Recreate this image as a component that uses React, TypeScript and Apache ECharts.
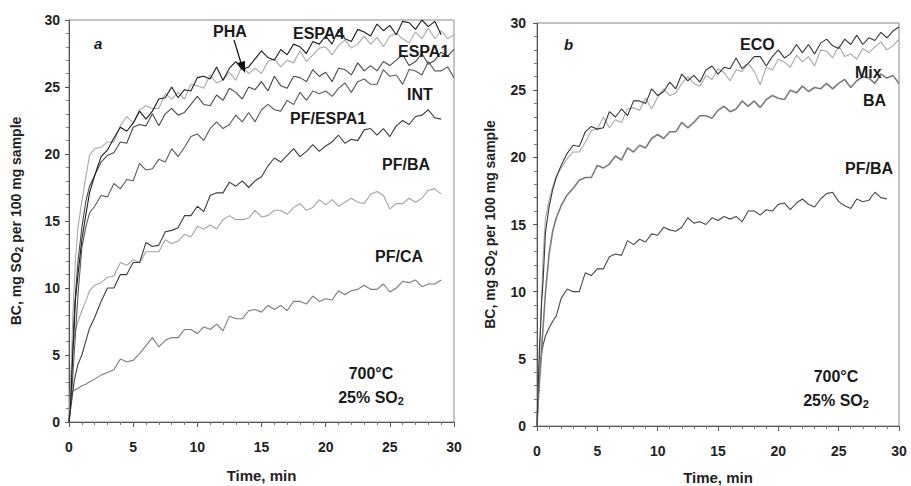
import React, { useEffect, useRef } from "react";
import * as echarts from "echarts";

// time axis (min), shared by all series
const T = [0, 0.1, 0.2, 0.3, 0.4, 0.5, 0.7, 1, 1.3, 1.6, 2, 2.5, 3,
  3.5, 4, 4.5, 5, 5.5, 6, 6.5, 7, 7.5, 8,
  8.5, 9, 9.5, 10, 10.5, 11, 11.5, 12, 12.5, 13,
  13.5, 14, 14.5, 15, 15.5, 16, 16.5, 17, 17.5, 18,
  18.5, 19, 19.5, 20, 20.5, 21, 21.5, 22, 22.5, 23,
  23.5, 24, 24.5, 25, 25.5, 26, 26.5, 27, 27.5, 28,
  28.5, 29, 29.5, 30];

// panel a
const PHA = [0, 1.0, 3.0, 5.2, 6.9, 9.1, 11.0, 13.6, 15.4, 17.1, 18.4, 19.8, 20.3,
  21.2, 22.0, 21.7, 22.3, 23.2, 22.6, 23.2, 24.1, 24.2, 25.0,
  24.2, 24.8, 24.7, 25.7, 25.8, 25.6, 26.5, 25.5, 26.4, 26.9,
  26.3, 26.5, 27.1, 27.7, 27.2, 27.0, 27.8, 27.4, 28.2, 28.0,
  27.5, 28.4, 28.2, 28.8, 28.2, 29.3, 28.6, 28.4, 29.3, 29.1,
  28.8, 29.7, 29.2, 29.6, 28.9, 29.9, 29.8, 29.3, 30.0, 29.5,
  29.9, 28.9];
const ESPA4 = [0, 2.0, 5.0, 8.0, 10.0, 12.0, 14.5, 16.5, 18.2, 19.9, 20.4, 20.5, 20.9,
  20.9, 22.1, 22.8, 22.3, 23.3, 23.6, 23.4, 23.4, 24.5, 24.1,
  24.6, 24.1, 25.2, 25.1, 24.9, 25.9, 25.3, 25.5, 26.1, 25.5,
  26.6, 26.0, 26.4, 26.0, 26.9, 27.1, 26.5, 27.0, 26.8, 27.7,
  26.9, 27.4, 27.9, 28.0, 27.4, 28.1, 28.5, 27.9, 28.2, 28.8,
  28.2, 28.7, 28.0, 28.8, 29.0, 28.6, 28.3, 29.1, 28.6, 29.4,
  28.6, 29.2, 28.6, 28.9];
const ESPA1 = [0, 1.5, 4.0, 6.0, 8.0, 9.5, 12.0, 14.5, 16.4, 17.6, 18.4, 19.4, 19.9,
  20.1, 20.9, 20.8, 22.0, 22.2, 22.1, 23.0, 22.1, 23.0, 23.4,
  22.9, 23.1, 23.7, 24.3, 23.7, 23.6, 24.4, 24.0, 24.9, 24.6,
  24.1, 25.0, 24.8, 25.4, 24.7, 25.8, 25.1, 24.9, 25.8, 25.7,
  25.4, 26.3, 25.8, 26.1, 25.4, 26.4, 26.3, 25.9, 26.8, 26.2,
  26.6, 26.2, 26.9, 26.6, 27.0, 27.4, 26.6, 26.9, 27.5, 26.7,
  27.0, 27.6, 27.3, 27.8];
const INT = [0, 1.0, 2.0, 3.5, 5.0, 6.5, 9.5, 13.0, 14.5, 15.6, 16.1, 16.9, 16.8,
  17.8, 17.4, 18.1, 18.0, 19.3, 18.8, 18.9, 19.6, 19.4, 20.4,
  19.8, 20.5, 21.3, 21.5, 21.0, 21.9, 22.4, 21.9, 22.2, 22.9,
  22.4, 23.1, 22.4, 23.3, 23.7, 23.3, 23.2, 24.0, 23.7, 24.6,
  24.0, 24.7, 24.5, 24.7, 24.3, 24.9, 25.3, 24.6, 25.4, 25.6,
  25.2, 25.2, 26.3, 25.8, 25.9, 25.2, 26.3, 26.2, 25.9, 26.9,
  26.2, 26.2, 26.5, 25.7];
const PF_ESPA1 = [0, 0.8, 1.5, 2.3, 3.0, 3.5, 4.3, 5.0, 6.0, 7.0, 7.8, 9.0, 10.0,
  10.0, 11.0, 11.0, 11.9, 11.9, 13.4, 13.1, 13.2, 14.2, 14.3,
  14.5, 15.4, 15.4, 16.1, 15.7, 16.9, 17.1, 17.1, 17.9, 17.6,
  18.0, 17.5, 18.0, 18.3, 19.1, 19.7, 19.4, 19.9, 20.4, 19.8,
  20.2, 20.7, 20.2, 20.6, 20.9, 21.4, 20.8, 21.1, 21.0, 21.8,
  21.9, 21.4, 21.9, 21.3, 22.1, 22.5, 22.2, 22.8, 22.9, 23.3,
  22.7, 22.6];
const PF_BA_A = [0, 1.5, 4.0, 5.5, 6.3, 6.8, 7.5, 8.3, 9.0, 9.8, 10.2, 10.4, 10.8,
  10.9, 11.9, 11.7, 12.1, 11.9, 12.7, 12.7, 12.7, 13.6, 13.3,
  13.5, 14.0, 13.8, 14.6, 14.4, 14.7, 14.4, 15.1, 15.4, 15.1,
  15.1, 15.2, 15.8, 15.3, 15.4, 15.8, 15.8, 15.5, 16.0, 16.3,
  15.8, 16.0, 16.6, 16.2, 16.6, 16.1, 16.4, 16.7, 16.4, 16.3,
  17.0, 17.2, 16.9, 15.9, 16.3, 16.3, 16.7, 16.4, 16.7, 17.3,
  17.4, 17.0];
const PF_CA = [0, 1.2, 2.0, 2.3, 2.4, 2.4, 2.5, 2.7, 2.8, 3.0, 3.2, 3.5, 3.7,
  3.9, 4.7, 4.5, 4.6, 5.1, 5.7, 6.3, 5.6, 6.1, 6.3,
  6.3, 6.9, 6.9, 6.6, 7.1, 6.9, 7.3, 6.8, 7.9, 7.7,
  7.7, 8.3, 8.4, 8.2, 8.7, 8.4, 8.7, 8.3, 9.0, 9.0,
  8.8, 9.4, 9.0, 9.2, 9.1, 9.8, 9.5, 9.8, 9.9, 10.2,
  9.9, 9.9, 10.3, 9.7, 10.0, 10.5, 10.4, 10.6, 10.1, 10.3,
  10.3, 10.6];

// panel b
const ECO = [0, 3.0, 5.7, 7.5, 9.5, 10.7, 14.4, 16.3, 17.6, 18.5, 19.4, 20.3, 20.9,
  20.8, 21.9, 22.3, 22.1, 22.2, 23.4, 23.0, 23.6, 23.1, 24.2,
  24.2, 24.0, 25.1, 24.6, 24.9, 25.6, 25.1, 26.2, 25.7, 26.1,
  25.6, 26.5, 26.8, 26.2, 26.7, 26.6, 27.4, 26.6, 27.0, 27.5,
  27.5, 26.8, 27.5, 28.0, 27.4, 27.7, 28.4, 27.8, 28.4, 27.7,
  28.5, 28.8, 28.3, 28.1, 28.8, 28.4, 29.1, 28.4, 28.9, 28.7,
  29.3, 28.9, 29.4, 29.7];
const MIX = [0, 2.5, 5.0, 7.5, 10.0, 12.5, 15.5, 16.8, 17.8, 18.6, 19.2, 19.9, 20.4,
  20.4, 21.1, 22.0, 22.1, 23.0, 22.2, 22.8, 22.6, 23.6, 23.7,
  23.5, 24.4, 23.6, 24.5, 25.1, 24.6, 24.8, 25.5, 26.0, 25.5,
  25.3, 26.1, 25.8, 26.6, 26.3, 25.7, 26.5, 26.4, 27.0, 26.4,
  25.4, 26.7, 26.5, 27.3, 27.1, 26.7, 27.6, 27.1, 27.5, 26.8,
  28.0, 27.9, 27.4, 28.3, 27.5, 27.7, 27.3, 28.1, 27.8, 28.2,
  28.6, 28.0, 28.3, 28.8];
const BA = [0, 1.8, 3.2, 4.5, 6.0, 7.3, 9.9, 12.8, 14.5, 15.5, 16.4, 17.2, 17.7,
  18.3, 18.5, 18.5, 19.4, 19.2, 19.5, 20.1, 19.8, 20.7, 20.4,
  20.9, 20.7, 21.4, 21.7, 21.4, 21.9, 21.9, 22.6, 22.2, 22.6,
  23.1, 23.1, 22.9, 23.5, 23.8, 23.4, 23.6, 24.2, 23.8, 24.2,
  23.7, 24.3, 24.6, 24.4, 24.3, 25.0, 24.8, 25.3, 24.9, 25.2,
  25.1, 25.5, 25.1, 25.5, 25.8, 25.2, 25.7, 26.0, 25.9, 25.5,
  26.2, 25.9, 26.1, 25.5];
const PF_BA_B = [0, 2.0, 3.6, 4.8, 5.5, 6.0, 6.7, 7.3, 7.8, 8.2, 9.5, 10.2, 10.0,
  10.0, 11.4, 11.2, 11.7, 11.7, 12.6, 12.8, 12.7, 13.8, 13.5,
  13.9, 13.7, 14.3, 14.2, 14.8, 14.6, 14.5, 14.8, 15.5, 15.1,
  15.2, 15.0, 15.5, 15.3, 15.6, 15.4, 15.6, 15.2, 16.0, 16.0,
  15.7, 16.1, 16.0, 16.5, 16.6, 16.1, 16.6, 16.9, 16.5, 16.3,
  16.9, 17.3, 17.4, 16.7, 16.4, 16.2, 16.9, 16.7, 16.8, 17.4,
  17.0, 16.9];

const X_TICKS = [0, 30, 5];
const Y_TICKS = [0, 30, 5];

const FONT = '"Liberation Sans", Arial, sans-serif';

const pairs = (vals: number[]) => vals.map((v, i) => [T[i], v]);

export default function App() {
  const ref = useRef<HTMLDivElement>(null);
  useEffect(() => {
    if (!ref.current) return;
    const chart = echarts.init(ref.current, null, { renderer: "svg" });

    const mkX = (idx: number, margin: number, nameGap: number) => ({
      type: "value",
      gridIndex: idx,
      min: X_TICKS[0],
      max: X_TICKS[1],
      interval: X_TICKS[2],
      name: "Time, min",
      nameLocation: "middle",
      nameGap,
      nameTextStyle: { fontFamily: FONT, fontWeight: "bold", fontSize: 15, color: "#222" },
      axisLine: { show: true, onZero: false, lineStyle: { color: "#555", width: 1 } },
      axisTick: { show: true, length: 5, lineStyle: { color: "#555" } },
      minorTick: { show: true, splitNumber: 5, length: 3, lineStyle: { color: "#777" } },
      splitLine: { show: false },
      axisLabel: { fontFamily: FONT, fontWeight: "bold", fontSize: 14, color: "#222", margin },
    });
    const mkY = (idx: number, margin: number, nameGap: number) => ({
      type: "value",
      gridIndex: idx,
      min: Y_TICKS[0],
      max: Y_TICKS[1],
      interval: Y_TICKS[2],
      name: "BC, mg SO{sub|2} per 100 mg sample",
      nameLocation: "middle",
      nameGap,
      nameTextStyle: {
        fontFamily: FONT, fontWeight: "bold", fontSize: 14, color: "#222",
        rich: { sub: { fontFamily: FONT, fontWeight: "bold", fontSize: 10, color: "#222", verticalAlign: "bottom", padding: [6, 0, 0, 0] } },
      },
      axisLine: { show: true, onZero: false, lineStyle: { color: "#555", width: 1 } },
      axisTick: { show: true, length: 4, lineStyle: { color: "#555" } },
      minorTick: { show: true, splitNumber: 5, length: 3, lineStyle: { color: "#777" } },
      splitLine: { show: false },
      axisLabel: { fontFamily: FONT, fontWeight: "bold", fontSize: 14, color: "#222", margin },
    });

    const line = (name: string, vals: number[], color: string, idx: number, width = 1.1) => ({
      name,
      type: "line",
      xAxisIndex: idx,
      yAxisIndex: idx,
      data: pairs(vals),
      showSymbol: false,
      symbol: "none",
      silent: true,
      lineStyle: { color, width },
    });

    const txt = (text: string, x: number, y: number, extra: any = {}) => ({
      type: "text",
      x,
      y,
      z: 100,
      style: {
        text,
        fill: "#1a1a1a",
        font: `bold 16px ${FONT}`,
        align: "left",
        verticalAlign: "middle",
        ...extra,
      },
    });
    const condText = (cx: number, y1: number, y2: number) => [
      txt("700°C", cx, y1, { align: "center" }),
      txt("25% SO{sub|2}", cx, y2, {
        align: "center",
        rich: { sub: { font: `bold 11px ${FONT}`, fill: "#1a1a1a", verticalAlign: "bottom", padding: [7, 0, 0, 0] } },
      }),
    ];

    chart.setOption({
      animation: false,
      backgroundColor: "#ffffff",
      grid: [
        { left: 69, top: 20, width: 385, height: 402, show: true, borderColor: "#8a8a8a", borderWidth: 1, backgroundColor: "transparent", outerBoundsMode: "none", containLabel: false },
        { left: 537, top: 23, width: 362, height: 403, show: true, borderColor: "#8a8a8a", borderWidth: 1, backgroundColor: "transparent", outerBoundsMode: "none", containLabel: false },
      ],
      xAxis: [mkX(0, 18, 46), mkX(1, 18, 44)],
      yAxis: [mkY(0, 9, 45), mkY(1, 11, 39)],
      series: [
        line("PF/CA", PF_CA, "#7b7b7b", 0),
        line("PF/BA", PF_BA_A, "#a3a3a3", 0),
        line("PF/ESPA1", PF_ESPA1, "#3c3c3c", 0),
        line("INT", INT, "#5a5a5a", 0),
        line("ESPA1", ESPA1, "#484848", 0),
        line("ESPA4", ESPA4, "#a9a9a9", 0),
        line("PHA", PHA, "#1c1c1c", 0),
        line("PF/BA", PF_BA_B, "#474747", 1),
        line("BA", BA, "#7a7a7a", 1, 1.6),
        line("Mix", MIX, "#a8a8a8", 1),
        line("ECO", ECO, "#363636", 1),
      ],
      graphic: [
        txt("a", 94, 43, { font: `italic bold 15px ${FONT}` }),
        txt("PHA", 213, 31),
        txt("ESPA4", 293, 33),
        txt("ESPA1", 398, 51),
        txt("INT", 407, 94),
        txt("PF/ESPA1", 290, 118),
        txt("PF/BA", 382, 164),
        txt("PF/CA", 375, 256),
        ...condText(371, 373, 397),
        { type: "line", z: 100, shape: { x1: 234, y1: 40, x2: 241, y2: 63 }, style: { stroke: "#111", lineWidth: 1.2 } },
        { type: "polygon", z: 100, shape: { points: [[237, 63], [245, 61], [245, 73]] }, style: { fill: "#111" } },
        txt("b", 564, 44, { font: `italic bold 15px ${FONT}` }),
        txt("ECO", 740, 44),
        txt("Mix", 855, 72),
        txt("BA", 863, 100),
        txt("PF/BA", 845, 168),
        ...condText(836, 376, 400),
      ],
    });
    return () => chart.dispose();
  }, []);
  return <div ref={ref} style={{ position: "absolute", left: 0, top: 0, width: 911, height: 486, background: "#fff" }} />;
}
